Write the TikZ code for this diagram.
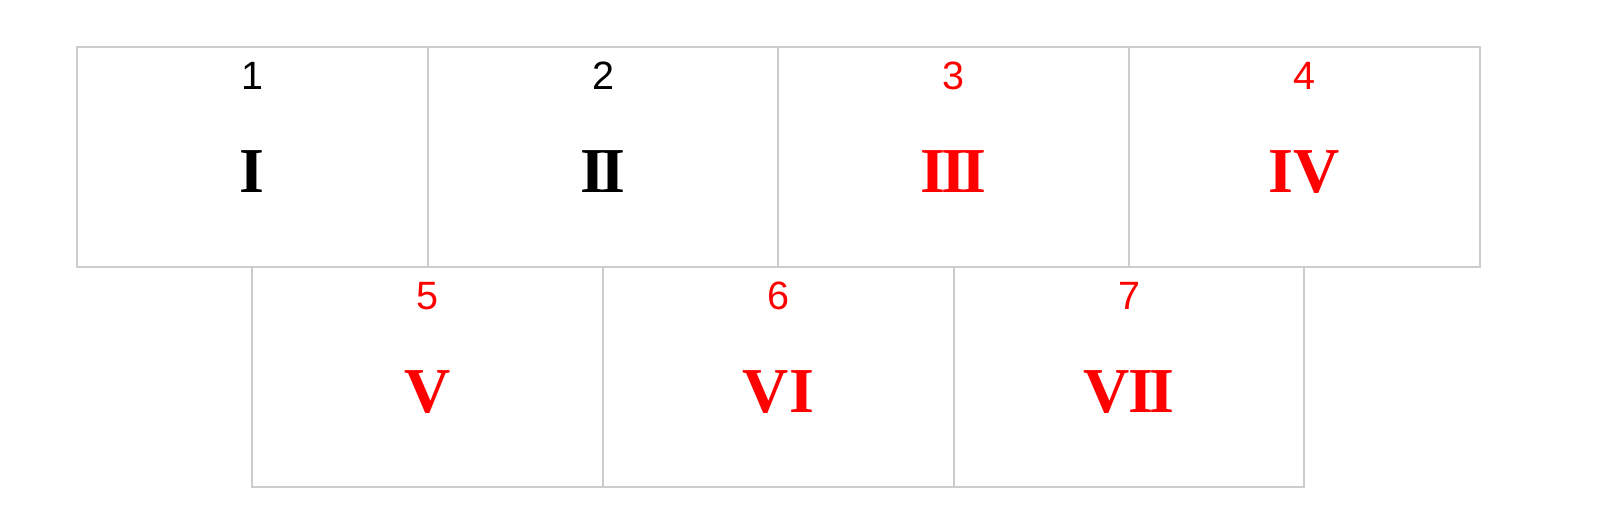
\documentclass[tikz,border=0pt]{standalone}
\usepackage{fontspec}
\setmainfont{Liberation Serif}
\newfontfamily\digitfont{Liberation Sans}
\definecolor{boxgray}{HTML}{CCCCCC}
\definecolor{numred}{HTML}{FF0000}
\newcommand\jk{\kern-4.4pt}
\tikzset{
  cellbox/.style={draw=boxgray, line width=2pt, rectangle, minimum width=350.7pt, minimum height=220pt, inner sep=0pt},
  numlabel/.style={inner sep=0pt, font=\digitfont\fontsize{39.5}{42}\selectfont},
  romanlabel/.style={inner sep=0pt, font=\bfseries\fontsize{64}{68}\selectfont},
}
\begin{document}
\begin{tikzpicture}[x=1pt,y=1pt]
\useasboundingbox (0,0) rectangle (1607,-532);
\fill[white] (0,0) rectangle (1607,-532);
% top row
\node[cellbox] (b1) at (252.35,-156.7) {};
\node[cellbox] (b2) at (603.05,-156.7) {};
\node[cellbox] (b3) at (953.75,-156.7) {};
\node[cellbox] (b4) at (1304.45,-156.7) {};
% bottom row
\node[cellbox] (b5) at (427.65,-376.7) {};
\node[cellbox] (b6) at (778.35,-376.7) {};
\node[cellbox] (b7) at (1129.05,-376.7) {};
% labels
\node[numlabel] (n1) at ([yshift=-30.5pt]b1.north) {1};
\node[numlabel] (n2) at ([yshift=-30.5pt]b2.north) {2};
\node[numlabel, text=numred] (n3) at ([yshift=-30.5pt]b3.north) {3};
\node[numlabel, text=numred] (n4) at ([yshift=-30.5pt]b4.north) {4};
\node[numlabel, text=numred] (n5) at ([yshift=-30.5pt]b5.north) {5};
\node[numlabel, text=numred] (n6) at ([yshift=-30.5pt]b6.north) {6};
\node[numlabel, text=numred] (n7) at ([yshift=-30.5pt]b7.north) {7};
\node[romanlabel] (r1) at ([yshift=-126.2pt]b1.north) {I};
\node[romanlabel] (r2) at ([yshift=-126.2pt]b2.north) {I\jk I};
\node[romanlabel, text=numred] (r3) at ([yshift=-126.2pt]b3.north) {I\jk I\jk I};
\node[romanlabel, text=numred] (r4) at ([yshift=-126.2pt]b4.north) {IV};
\node[romanlabel, text=numred] (r5) at ([yshift=-126.2pt]b5.north) {V};
\node[romanlabel, text=numred] (r6) at ([yshift=-126.2pt]b6.north) {VI};
\node[romanlabel, text=numred] (r7) at ([yshift=-126.2pt]b7.north) {V\kern-1.5pt I\jk I};
\end{tikzpicture}
\end{document}
